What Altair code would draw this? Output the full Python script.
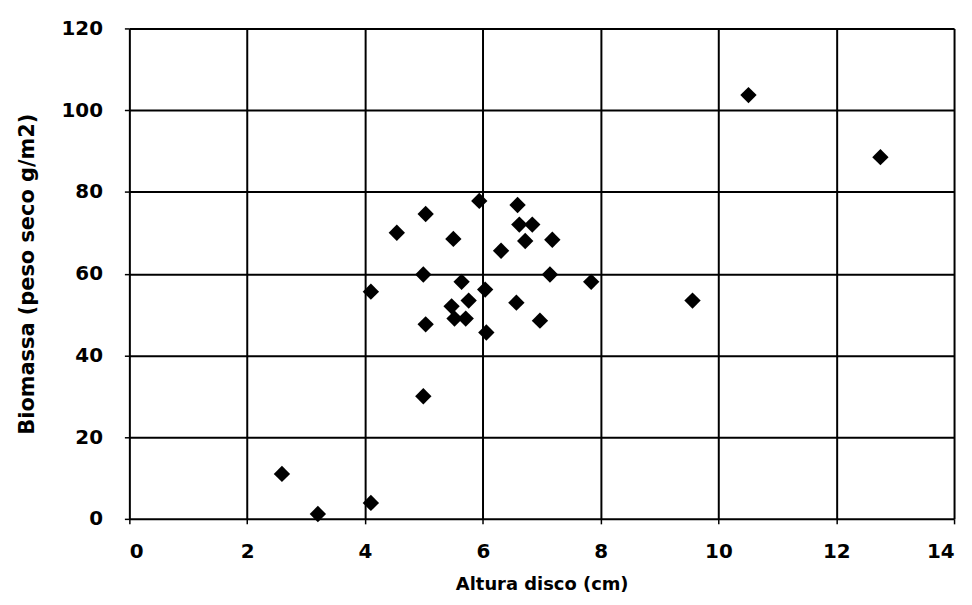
import altair as alt
import pandas as pd

altura = [5.94, 6.59, 5.03, 4.54, 6.62, 6.84, 6.72, 7.18, 5.50, 6.31, 4.99, 5.64,
          6.04, 7.14, 7.84, 5.76, 5.47, 5.52, 5.71, 6.57, 6.97, 6.06, 5.03, 4.10,
          4.99, 2.59, 3.20, 4.10, 10.51, 12.75, 9.56]
biomassa = [77.8, 76.8, 74.6, 70.0, 72.0, 72.0, 68.0, 68.3, 68.5, 65.6, 59.8, 58.0,
            56.1, 59.8, 58.0, 53.4, 52.0, 49.0, 49.0, 52.9, 48.5, 45.6, 47.6, 55.6,
            30.0, 11.0, 1.2, 3.9, 103.7, 88.5, 53.4]

x_ticks = [0, 2, 4, 6, 8, 10, 12, 14]
y_ticks = [0, 20, 40, 60, 80, 100, 120]

df = pd.DataFrame({"altura": altura, "biomassa": biomassa})

font = "DejaVu Sans"

chart = alt.Chart(df).mark_point(
    shape="diamond", filled=True, color="black", size=270, opacity=1
).encode(
    x=alt.X("altura:Q", scale=alt.Scale(domain=[0, 14], nice=False),
            axis=alt.Axis(values=x_ticks, title="Altura disco (cm)", format="d",
                          grid=True, gridColor="black", gridWidth=2, gridOpacity=1,
                          domain=False, tickColor="black", tickSize=5, tickWidth=1.5,
                          labelFont=font, labelFontSize=20, labelFontWeight="bold",
                          labelColor="black", labelPadding=18,
                          titleFont=font, titleFontSize=18, titleFontWeight="bold",
                          titleColor="black", titlePadding=14)),
    y=alt.Y("biomassa:Q", scale=alt.Scale(domain=[0, 120], nice=False),
            axis=alt.Axis(values=y_ticks, title="Biomassa (peso seco g/m2)", format="d",
                          grid=True, gridColor="black", gridWidth=2, gridOpacity=1,
                          domain=False, tickColor="black", tickSize=5, tickWidth=1.5,
                          labelFont=font, labelFontSize=20, labelFontWeight="bold",
                          labelColor="black", labelPadding=22,
                          titleFont=font, titleFontSize=21, titleFontWeight="bold",
                          titleColor="black", titlePadding=24)),
).properties(
    width=829, height=493,
    autosize=alt.AutoSizeParams(type="none"),
    padding={"left": 122, "top": 19, "right": 10, "bottom": 77},
).configure_view(
    stroke="black", strokeWidth=3, fill="white"
).configure(background="white")

chart.save("out.html", embed_options={"renderer": "svg", "actions": False})
